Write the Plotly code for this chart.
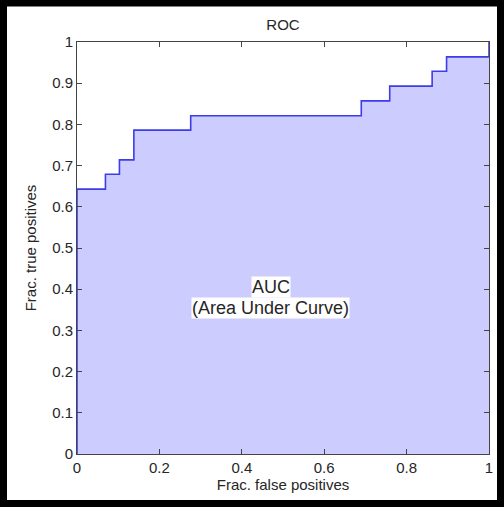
import plotly.graph_objects as go

# ROC operating points (false positive rate, true positive rate)
fpr = [0.0, 0.0, 0.069, 0.103, 0.138, 0.276, 0.690, 0.759, 0.862, 0.897, 1.0]
tpr = [0.0, 0.643, 0.679, 0.714, 0.786, 0.821, 0.857, 0.893, 0.929, 0.964, 1.0]

tick_vals_x = [0, 0.2, 0.4, 0.6, 0.8, 1]
tick_text_x = ["0", "0.2", "0.4", "0.6", "0.8", "1"]
tick_vals_y = [0, 0.1, 0.2, 0.3, 0.4, 0.5, 0.6, 0.7, 0.8, 0.9, 1]
tick_text_y = ["0", "0.1", "0.2", "0.3", "0.4", "0.5", "0.6", "0.7", "0.8", "0.9", "1"]

W, H = 504, 507
ML, MR, MT, MB = 77, 15, 42, 53
PW, PH = W - ML - MR, H - MT - MB
FONT = "Liberation Sans, Arial, Helvetica, sans-serif"
TXT = "#262626"

fig = go.Figure()
fig.add_trace(go.Scatter(
    x=fpr, y=tpr, mode="lines", line_shape="hv",
    line=dict(color="rgb(60,60,235)", width=1.6),
    fill="tozeroy", fillcolor="rgb(204,204,255)",
    showlegend=False, hoverinfo="skip",
))

axis_common = dict(
    showgrid=False, zeroline=False, showline=True, linecolor="#444444", linewidth=1,
    mirror="ticks", ticks="inside", ticklen=5, tickcolor="#444444",
    tickfont=dict(family=FONT, size=15, color=TXT),
)
fig.update_xaxes(range=[0, 1], tickvals=tick_vals_x, ticktext=tick_text_x,
                 title=dict(text="Frac. false positives", font=dict(family=FONT, size=15, color=TXT), standoff=4),
                 **axis_common)
fig.update_yaxes(range=[0, 1], tickvals=tick_vals_y, ticktext=tick_text_y,
                 title=dict(text="Frac. true positives", font=dict(family=FONT, size=15, color=TXT), standoff=11),
                 **axis_common)

# Area label, one white-backed box per line
for txt, yv in [("AUC", 0.405), ("(Area Under Curve)", 0.354)]:
    fig.add_annotation(x=0.47, y=yv, xref="x", yref="y", text=txt, showarrow=False,
                       font=dict(family=FONT, size=18, color=TXT),
                       bgcolor="white", borderpad=0, xanchor="center", yanchor="middle")

# Black frame around the whole figure
def px_x(p):
    return (p - ML) / PW

def px_y(p):
    return (H - MB - p) / PH

fig.add_shape(type="rect", xref="paper", yref="paper",
              x0=px_x(3.5), x1=px_x(W - 3.5), y0=px_y(H - 3.5), y1=px_y(3),
              line=dict(color="black", width=7), fillcolor="rgba(0,0,0,0)", layer="above")

fig.update_layout(
    width=W, height=H,
    margin=dict(l=ML, r=MR, t=MT, b=MB),
    paper_bgcolor="white", plot_bgcolor="white",
    title=dict(text="ROC", x=0.5, xref="paper", y=1 - 25 / H, yref="container",
               xanchor="center", yanchor="middle",
               font=dict(family=FONT, size=15, color=TXT)),
)

fig.write_html("out.html")
